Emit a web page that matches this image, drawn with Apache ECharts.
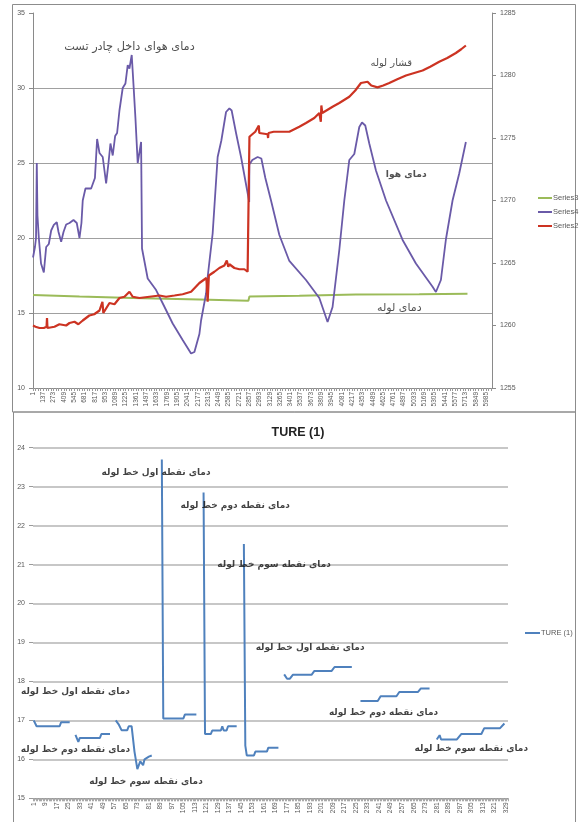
<!DOCTYPE html>
<html><head><meta charset="utf-8">
<script src="https://cdn.jsdelivr.net/npm/echarts@6/dist/echarts.min.js"></script>
<style>html,body{margin:0;padding:0;background:#fff}#c{width:581px;height:822px}</style>
</head><body><div id="c"></div><script>
// ---------- TOP CHART DATA ----------
const topCount = 6064;            // number of categories on the top x axis (1..topCount)
const topLabelStep = 136;         // tick labels 1, 137, 273, ...
const topCategories = Array.from({length: topCount}, (_, k) => String(k + 1));

// Series3 (green) - pipe temperature, left axis
const series3X = [1, 615, 1315, 2199, 2846, 2857, 2860, 3519, 4267, 5103, 5740];
const series3Y = [16.2, 16.1, 16.0, 15.9, 15.82, 15.82, 16.1, 16.15, 16.24, 16.25, 16.28];

// Series4 (purple) - air temperature, left axis
const series4X = [1, 27, 41, 51, 60, 78, 107, 144, 175, 210, 241, 276, 315, 338, 373, 404, 439, 483, 536, 579, 615, 641, 658, 694, 720, 769, 790, 819, 848, 879, 922, 945, 967, 998, 1024, 1054, 1086, 1112, 1143, 1186, 1222, 1252, 1275, 1305, 1331, 1354, 1384, 1429, 1437, 1441, 1516, 1627, 1714, 1846, 1978, 2089, 2133, 2199, 2221, 2287, 2308, 2374, 2440, 2489, 2551, 2595, 2625, 2683, 2749, 2836, 2857, 2859, 2898, 2968, 3017, 3070, 3145, 3255, 3387, 3607, 3783, 3892, 3958, 4047, 4113, 4179, 4245, 4311, 4347, 4390, 4443, 4531, 4664, 4883, 5059, 5279, 5323, 5389, 5455, 5543, 5631, 5719];
const series4Y = [18.7, 19.4, 20.0, 25.0, 21.5, 20.0, 18.3, 17.7, 19.4, 19.6, 20.5, 20.87, 21.05, 20.4, 19.75, 20.4, 20.9, 21.0, 21.2, 21.0, 20.0, 21.0, 22.5, 23.3, 23.4, 23.3, 23.2, 24.0, 26.6, 25.67, 25.4, 24.5, 23.64, 25.0, 26.3, 25.5, 26.8, 27.0, 28.5, 30.0, 30.3, 31.53, 31.3, 32.2, 30.0, 28.0, 25.0, 26.4, 26.3, 19.3, 17.3, 16.53, 15.65, 14.3, 13.2, 12.3, 12.4, 13.6, 14.5, 16.3, 17.4, 20.3, 25.4, 26.5, 28.4, 28.64, 28.5, 27.0, 25.4, 23.0, 22.4, 24.9, 25.2, 25.4, 25.3, 24.0, 22.5, 20.2, 18.47, 17.2, 16.0, 14.4, 15.4, 19.2, 22.5, 25.2, 25.6, 27.4, 27.7, 27.5, 26.3, 24.5, 22.5, 19.87, 18.3, 16.75, 16.4, 17.2, 19.9, 22.5, 24.3, 26.4];

// Series2 (red) - pipe pressure, right axis
const series2X = [1, 34, 87, 144, 180, 186, 192, 285, 350, 439, 483, 549, 600, 658, 745, 810, 879, 918, 930, 1011, 1077, 1143, 1209, 1275, 1318, 1407, 1539, 1671, 1759, 1870, 1978, 2089, 2199, 2291, 2308, 2324, 2397, 2462, 2529, 2561, 2580, 2595, 2661, 2727, 2793, 2836, 2856, 2860, 2898, 2937, 2984, 2990, 3100, 3106, 3112, 3180, 3246, 3387, 3519, 3607, 3717, 3783, 3803, 3810, 3822, 3849, 3958, 4047, 4179, 4258, 4333, 4420, 4469, 4552, 4627, 4707, 4813, 4927, 5037, 5147, 5248, 5367, 5473, 5587, 5657, 5719];
const series2Y = [1260.0, 1259.9, 1259.8, 1259.8, 1259.9, 1260.6, 1259.8, 1259.9, 1260.1, 1260.0, 1260.2, 1260.3, 1260.1, 1260.4, 1260.8, 1260.9, 1261.2, 1261.9, 1261.0, 1261.8, 1261.7, 1262.2, 1262.3, 1262.7, 1262.3, 1262.2, 1262.3, 1262.4, 1262.3, 1262.4, 1262.5, 1262.7, 1263.4, 1263.8, 1261.9, 1264.0, 1264.3, 1264.6, 1264.8, 1265.2, 1264.7, 1264.9, 1264.6, 1264.5, 1264.5, 1264.3, 1264.4, 1275.1, 1275.3, 1275.5, 1276.0, 1275.4, 1275.3, 1275.0, 1275.4, 1275.5, 1275.5, 1275.5, 1275.9, 1276.2, 1276.6, 1277.0, 1276.3, 1277.6, 1277.0, 1277.1, 1277.5, 1277.8, 1278.3, 1278.8, 1279.4, 1279.5, 1279.2, 1279.05, 1279.2, 1279.4, 1279.7, 1280.0, 1280.2, 1280.4, 1280.7, 1281.1, 1281.4, 1281.8, 1282.1, 1282.4];

// Top annotations (category index, left-axis value, text)
const topNoteX = [1275, 4733, 4931, 4839];
const topNoteY = [32.73, 31.67, 24.2, 15.33];
const topNoteText = ['دمای هوای داخل چادر تست', 'قشار لوله', 'دمای هوا', 'دمای لوله'];
const topNoteBold = [false, false, true, false];
const topNoteSize = [11.3, 10, 9.2, 11];

// ---------- BOTTOM CHART DATA ----------
const bottomCount = 330;
const bottomLabelStep = 8;
const bottomCategories = Array.from({length: bottomCount}, (_, k) => String(k + 1));
// TURE (1) series: null breaks the line between segments
const tureX = [1, 3, 19, 20, 26, 28,
  30, 32, 33, 47, 48, 54, 56,
  58, 60, 62, 66, 67, 69, 71, 73, 74, 75, 77, 78, 79, 81, 83, 86,
  90, 91, 105, 106, 114, 116,
  119, 120, 124, 125, 131, 132, 133, 135, 136, 142, 144,
  147, 148, 149, 154, 155, 163, 164, 171, 173,
  175, 177, 179, 181, 194, 196, 208, 210, 222, 225,
  228, 240, 242, 253, 255, 268, 270, 276, 278,
  281, 282, 283, 284, 295, 298, 312, 314, 325, 328];
const tureY = [17.0, 16.85, 16.85, 16.95, 16.95, null,
  16.63, 16.45, 16.55, 16.55, 16.65, 16.65, null,
  17.0, 16.9, 16.75, 16.75, 16.85, 16.85, 16.2, 15.75, 15.8, 15.95, 15.85, 16.0, 15.95, 16.07, 16.1, null,
  23.7, 17.05, 17.05, 17.15, 17.15, null,
  22.85, 16.65, 16.65, 16.74, 16.74, 16.85, 16.74, 16.74, 16.85, 16.85, null,
  21.53, 16.35, 16.1, 16.1, 16.2, 16.2, 16.3, 16.3, null,
  18.18, 18.07, 18.07, 18.17, 18.17, 18.27, 18.27, 18.37, 18.37, null,
  17.5, 17.5, 17.62, 17.62, 17.73, 17.73, 17.82, 17.82, null,
  16.51, 16.51, 16.62, 16.51, 16.51, 16.65, 16.65, 16.8, 16.8, 16.92];

const bottomNoteX = [86, 141, 168, 193, 244, 305, 30, 30, 79];
const bottomNoteY = [23.35, 22.5, 20.99, 18.86, 17.21, 16.27, 17.75, 16.24, 15.42];
const bottomNoteText = ['دمای نقطه اول خط لوله', 'دمای نقطه دوم خط لوله', 'دمای نقطه سوم خط لوله',
  'دمای نقطه اول خط لوله', 'دمای نقطه دوم خط لوله', 'دمای نقطه سوم خط لوله',
  'دمای نقطه اول خط لوله', 'دمای نقطه دوم خط لوله', 'دمای نقطه سوم خط لوله'];

// ---------- BUILD ----------
const pairs = (xs, ys) => xs.map((x, k) => [x - 1, ys[k] === null ? '-' : ys[k]]);
const gray = '#595959';
const lat = "'Liberation Sans', Arial, sans-serif";
const fa = "'DejaVu Sans', 'Noto Sans', sans-serif";
const plain = v => String(v);

const chart = echarts.init(document.getElementById('c'), null, {renderer: 'canvas'});
chart.setOption({
  animation: false,
  backgroundColor: '#fff',
  textStyle: {fontFamily: lat},
  title: {
    text: 'TURE (1)', left: 293, top: 421, textAlign: 'center',
    textStyle: {fontSize: 12.5, fontWeight: 'bold', color: '#222', fontFamily: lat}
  },
  legend: [
    {data: ['Series3', 'Series4', 'Series2'], orient: 'vertical', left: 533, top: 189,
     itemWidth: 14, itemHeight: 2, itemGap: 6, icon: 'rect',
     textStyle: {fontSize: 7.5, color: gray, padding: [0, 0, 0, -4]}},
    {data: ['TURE (1)'], orient: 'vertical', left: 520, top: 624,
     itemWidth: 15, itemHeight: 2, icon: 'rect',
     textStyle: {fontSize: 7.5, color: gray, padding: [0, 0, 0, -4]}}
  ],
  graphic: [
    {type: 'rect', shape: {x: 12.5, y: 4.5, width: 563, height: 407.5}, style: {fill: 'none', stroke: '#8c8c8c', lineWidth: 1}, silent: true},
    {type: 'rect', shape: {x: 13.5, y: 412, width: 562, height: 420}, style: {fill: 'none', stroke: '#8c8c8c', lineWidth: 1}, silent: true}
  ],
  grid: [
    {left: 33, right: 89, top: 13, height: 375},
    {left: 33, right: 73, top: 447.7, height: 350.6}
  ],
  xAxis: [
    {type: 'category', gridIndex: 0, data: topCategories, boundaryGap: false,
     axisLine: {lineStyle: {color: '#8a8a8a', width: 1}},
     axisTick: {show: true, interval: 33, length: 3, lineStyle: {color: '#9a9a9a'}},
     axisLabel: {interval: topLabelStep - 1, rotate: 90, fontSize: 6.5, color: gray, margin: 4},
     splitLine: {show: false}},
    {type: 'category', gridIndex: 1, data: bottomCategories, boundaryGap: true,
     axisLine: {lineStyle: {color: '#9a9a9a', width: 1}},
     axisTick: {show: true, interval: 0, length: 3, lineStyle: {color: '#a8a8a8'}},
     axisLabel: {interval: bottomLabelStep - 1, rotate: 90, fontSize: 6.5, color: gray, margin: 4},
     splitLine: {show: false}}
  ],
  yAxis: [
    {type: 'value', gridIndex: 0, min: 10, max: 35, interval: 5, position: 'left',
     axisLine: {show: true, lineStyle: {color: '#8a8a8a'}},
     axisTick: {show: true, length: 4, lineStyle: {color: '#8a8a8a'}},
     axisLabel: {fontSize: 7, color: gray, margin: 8, formatter: plain},
     splitLine: {show: true, showMaxLine: false, lineStyle: {color: '#a0a0a0', width: 1}}},
    {type: 'value', gridIndex: 0, min: 1255, max: 1285, interval: 5, position: 'right',
     axisLine: {show: true, lineStyle: {color: '#8a8a8a'}},
     axisTick: {show: true, length: 4, lineStyle: {color: '#8a8a8a'}},
     axisLabel: {fontSize: 7, color: gray, margin: 8, formatter: plain},
     splitLine: {show: false}},
    {type: 'value', gridIndex: 1, min: 15, max: 24, interval: 1, position: 'left',
     axisLine: {show: false},
     axisTick: {show: true, length: 4, lineStyle: {color: '#9a9a9a'}},
     axisLabel: {fontSize: 7, color: gray, margin: 8, formatter: plain},
     splitLine: {show: true, lineStyle: {color: '#b4b4b4', width: 1.5}}}
  ],
  series: [
    {name: 'Series3', type: 'line', xAxisIndex: 0, yAxisIndex: 0, data: pairs(series3X, series3Y),
     showSymbol: false, lineStyle: {color: '#9bbb59', width: 2}, itemStyle: {color: '#9bbb59'}, z: 3},
    {name: 'Series4', type: 'line', xAxisIndex: 0, yAxisIndex: 0, data: pairs(series4X, series4Y),
     showSymbol: false, lineStyle: {color: '#6a5aa8', width: 1.8}, itemStyle: {color: '#6a5aa8'}, z: 4},
    {name: 'Series2', type: 'line', xAxisIndex: 0, yAxisIndex: 1, data: pairs(series2X, series2Y),
     showSymbol: false, lineStyle: {color: '#cc3322', width: 2.2}, itemStyle: {color: '#cc3322'}, z: 5},
    {name: 'topNotes', type: 'scatter', xAxisIndex: 0, yAxisIndex: 0, silent: true, symbolSize: 1,
     itemStyle: {color: 'transparent'}, z: 6,
     data: topNoteX.map((x, k) => ({value: [x - 1, topNoteY[k]],
       label: {show: true, position: 'inside', formatter: topNoteText[k],
         fontFamily: fa, fontSize: topNoteSize[k], fontWeight: topNoteBold[k] ? 'bold' : 'normal', color: '#262626'}}))},
    {name: 'TURE (1)', type: 'line', xAxisIndex: 1, yAxisIndex: 2, data: pairs(tureX, tureY),
     connectNulls: false, showSymbol: false, lineStyle: {color: '#4f81bd', width: 2}, itemStyle: {color: '#4f81bd'}, z: 4},
    {name: 'bottomNotes', type: 'scatter', xAxisIndex: 1, yAxisIndex: 2, silent: true, symbolSize: 1,
     itemStyle: {color: 'transparent'}, z: 6,
     data: bottomNoteX.map((x, k) => ({value: [x - 1, bottomNoteY[k]],
       label: {show: true, position: 'inside', formatter: bottomNoteText[k],
         fontFamily: fa, fontSize: 9, fontWeight: 'bold', color: '#111'}}))}
  ]
});
</script></body></html>
